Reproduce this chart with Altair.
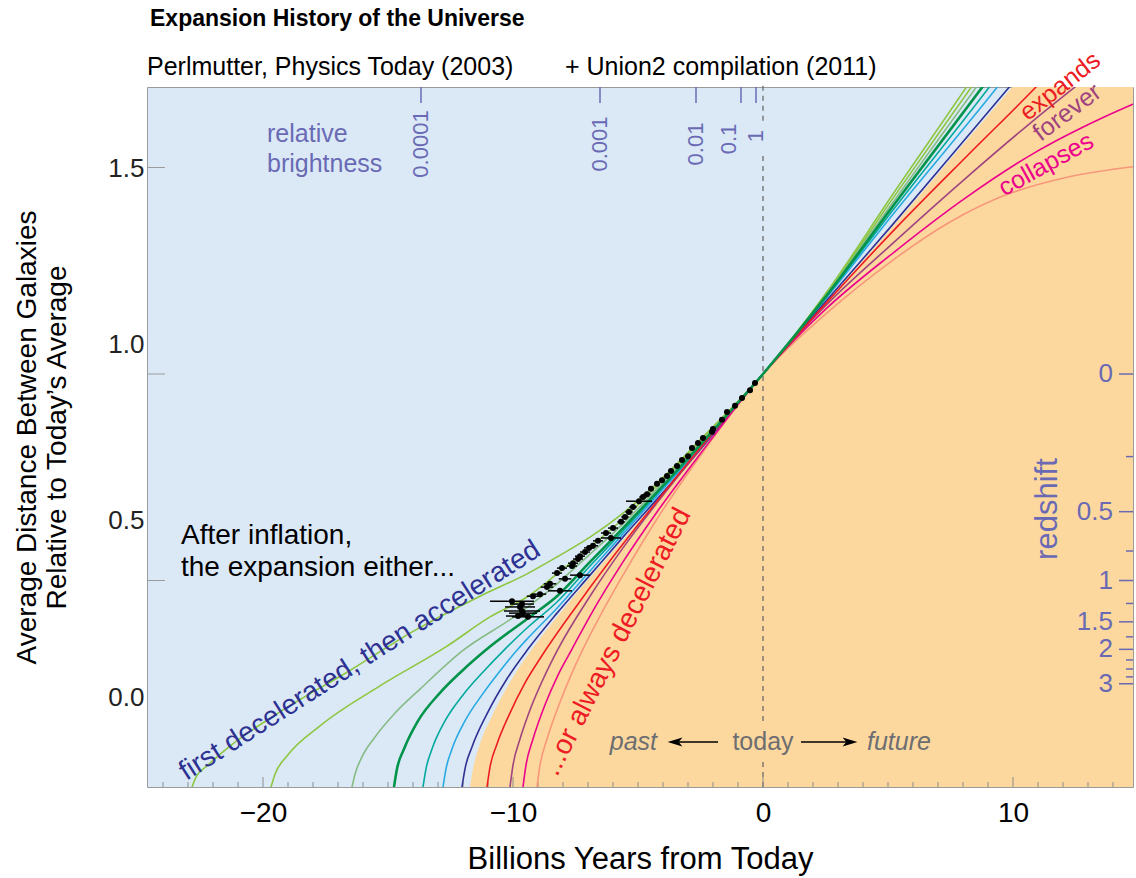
import altair as alt
import pandas as pd

# ---------------- plot geometry & palette ----------------
W, H = 986, 700
T_DOMAIN = [-24.64, 14.8]      # billions of years from today
A_DOMAIN = [0.0, 1.695]        # average galaxy separation relative to today
FONT = "Liberation Sans"

SKY = "#dbe9f7"
PEACH = "#fdd89e"
SLATE = "#6a6ab4"
NAVY = "#2e3192"
RED = "#ed1c24"
PLUM = "#a0447f"
MAGENTA = "#ec008c"
GRAY = "#6d6e71"

# ---------------- expansion histories: time (Gyr) and relative size ----------------
green1_t = [-22.84, -22.68, -22.24, -21.32, -19.32, -16.64, -13.96, -11.32, -9.44, -8.24, -6.92, -5.60, -4.24, -2.52, 0.0, 2.56, 5.20, 8.16, 9.08]
green1_a = [0.0, 0.024, 0.051, 0.099, 0.182, 0.278, 0.378, 0.462, 0.516, 0.557, 0.605, 0.663, 0.736, 0.840, 1.0, 1.199, 1.436, 1.697, 1.780]

green2_t = [-19.68, -19.52, -19.04, -17.72, -15.32, -12.64, -10.92, -9.44, -8.24, -6.92, -5.60, -4.24, -2.52, 0.0, 2.56, 5.20, 8.36, 9.28]
green2_a = [0.0, 0.031, 0.075, 0.148, 0.245, 0.341, 0.412, 0.460, 0.516, 0.581, 0.649, 0.729, 0.838, 1.0, 1.196, 1.426, 1.697, 1.777]

sage_t = [-16.44, -16.32, -16.08, -15.52, -14.72, -13.72, -12.04, -9.96, -8.24, -6.92, -5.60, -4.24, -2.52, 0.0, 2.56, 5.20, 8.56, 9.48]
sage_a = [0.0, 0.031, 0.068, 0.121, 0.179, 0.237, 0.329, 0.412, 0.492, 0.564, 0.637, 0.722, 0.833, 1.0, 1.194, 1.416, 1.697, 1.775]

dkgreen_t = [-14.76, -14.64, -14.36, -13.80, -12.92, -12.04, -11.04, -9.44, -8.24, -6.92, -5.60, -4.24, -2.52, 0.0, 2.56, 5.20, 8.80, 9.72]
dkgreen_a = [0.0, 0.044, 0.092, 0.160, 0.228, 0.281, 0.334, 0.407, 0.462, 0.545, 0.627, 0.714, 0.828, 1.0, 1.191, 1.407, 1.697, 1.772]

teal_t = [-13.60, -13.48, -13.24, -12.72, -12.00, -11.16, -10.32, -9.44, -8.24, -6.92, -5.60, -4.24, -2.52, 0.0, 2.56, 5.20, 9.08, 10.00]
teal_a = [0.0, 0.044, 0.092, 0.160, 0.223, 0.281, 0.334, 0.385, 0.448, 0.535, 0.620, 0.709, 0.823, 1.0, 1.189, 1.397, 1.697, 1.770]

cyan_t = [-12.80, -12.68, -12.44, -11.92, -11.24, -10.52, -9.80, -9.44, -8.24, -6.92, -5.60, -4.24, -2.52, 0.0, 2.56, 5.20, 9.40, 10.32]
cyan_a = [0.0, 0.044, 0.092, 0.160, 0.223, 0.281, 0.334, 0.358, 0.433, 0.523, 0.613, 0.705, 0.821, 1.0, 1.186, 1.387, 1.697, 1.768]

navy_t = [-12.04, -11.92, -11.64, -11.04, -10.24, -9.40, -8.24, -6.92, -5.60, -4.24, -2.52, 0.0, 2.56, 5.20, 7.88, 9.88, 10.80]
navy_a = [0.0, 0.044, 0.097, 0.177, 0.262, 0.334, 0.421, 0.513, 0.605, 0.697, 0.816, 1.0, 1.179, 1.363, 1.554, 1.697, 1.763]

red_t = [-11.04, -10.92, -10.64, -10.16, -9.52, -8.80, -7.52, -6.24, -4.40, -2.52, 0.0, 2.56, 5.20, 8.16, 10.92, 12.28]
red_a = [0.0, 0.048, 0.104, 0.174, 0.252, 0.322, 0.433, 0.538, 0.680, 0.821, 1.0, 1.174, 1.346, 1.528, 1.695, 1.782]

plum_t = [-10.12, -10.00, -9.72, -9.24, -8.72, -8.20, -6.92, -5.60, -4.24, -2.52, 0.0, 2.56, 5.20, 8.16, 10.84, 12.52, 13.88]
plum_a = [0.0, 0.053, 0.116, 0.199, 0.271, 0.334, 0.462, 0.579, 0.688, 0.818, 1.0, 1.169, 1.317, 1.477, 1.615, 1.697, 1.763]

magenta_t = [-9.60, -9.48, -9.20, -8.72, -8.20, -7.64, -6.92, -5.60, -4.24, -2.52, 0.0, 2.56, 5.20, 8.16, 10.84, 13.56, 15.08]
magenta_a = [0.0, 0.053, 0.116, 0.199, 0.271, 0.334, 0.414, 0.545, 0.666, 0.806, 1.0, 1.160, 1.293, 1.429, 1.535, 1.620, 1.661]

salmon_t = [-9.04, -8.92, -8.64, -8.16, -7.68, -7.20, -6.52, -5.60, -4.24, -2.52, 0.0, 2.56, 5.20, 7.48, 9.52, 12.20, 15.08]
salmon_a = [0.0, 0.053, 0.116, 0.199, 0.271, 0.334, 0.414, 0.513, 0.649, 0.801, 1.0, 1.148, 1.276, 1.368, 1.429, 1.477, 1.504]

# edge of the decelerating (shaded) region
edge_t = [-11.72, -11.60, -11.36, -10.80, -10.04, -9.24, -8.12, -6.84, -5.52, -4.20, -2.52, 0.0, 2.56, 5.20, 7.88, 10.00, 11.08, 15.08]
edge_a = [0.0, 0.044, 0.097, 0.177, 0.262, 0.334, 0.421, 0.513, 0.605, 0.697, 0.814, 1.0, 1.177, 1.358, 1.547, 1.697, 1.775, 2.2]

# ---------------- supernova measurements ----------------
sn_t = [-0.32, -0.52, -0.84, -1.12, -1.44, -1.64, -2.00, -2.04, -2.40, -2.60, -2.84, -3.00, -3.24, -3.44,
        -3.68, -3.84, -4.04, -4.24, -4.48, -4.64, -4.80, -4.96, -5.20, -5.36, -5.52, -5.68, -6.00, -6.28,
        -6.08, -6.60, -6.80, -6.96, -7.12, -7.32, -7.40, -7.60, -7.64, -8.04, -8.24, -7.32, -7.92, -8.52,
        -8.64, -8.12, -8.92, -9.20, -10.04, -9.64, -9.72, -9.64, -9.60, -9.80, -9.40]
sn_a = [0.978, 0.961, 0.942, 0.923, 0.908, 0.889, 0.867, 0.860, 0.845, 0.833, 0.821, 0.801, 0.792, 0.777,
        0.765, 0.753, 0.743, 0.734, 0.722, 0.709, 0.702, 0.692, 0.678, 0.666, 0.654, 0.642, 0.627, 0.615,
        0.603, 0.596, 0.584, 0.579, 0.569, 0.559, 0.552, 0.542, 0.535, 0.530, 0.518, 0.513, 0.504, 0.492,
        0.484, 0.475, 0.467, 0.462, 0.450, 0.443, 0.436, 0.426, 0.421, 0.414, 0.412]
sn_err = [0.1, 0.1, 0.1, 0.1, 0.1, 0.1, 0.1, 0.1, 0.1, 0.1, 0.1, 0.1, 0.1, 0.1,
          0.1, 0.1, 0.1, 0.1, 0.1, 0.15, 0.15, 0.52, 0.15, 0.15, 0.15, 0.15, 0.2, 0.2,
          0.4, 0.2, 0.2, 0.2, 0.2, 0.2, 0.2, 0.2, 0.2, 0.2, 0.2, 0.4, 0.25, 0.25,
          0.25, 0.48, 0.25, 0.25, 0.88, 0.48, 0.6, 0.72, 0.56, 0.48, 0.64]

# ---------------- auxiliary scales ----------------
bright_labels = ["0.0001", "0.001", "0.01", "0.1", "1"]
bright_t = [-13.68, -6.52, -2.68, -0.88, -0.28]

z_major = [0, 0.5, 1, 1.5, 2, 3]
z_major_labels = ["0", "0.5", "1", "1.5", "2", "3"]
z_minor = [0.25, 0.75, 1.25, 1.75, 2.25, 2.5, 2.75]

y_tick_values = [0.5, 1.0, 1.5]
y_label_values = [0.0, 0.5, 1.0, 1.5]
year_ticks = list(range(-24, 15))

today_from = [0.0, 0.160, 1.613]
today_to = [0.063, 1.540, 1.70]

# ---------------- helpers ----------------
xs = alt.Scale(domain=T_DOMAIN, nice=False, zero=False)
ys = alt.Scale(domain=A_DOMAIN, nice=False, zero=False)

x_axis = alt.Axis(
    values=[-20, -10, 0, 10], ticks=False, domain=False, grid=False,
    labelFont=FONT, labelFontSize=28, labelColor="black", labelPadding=12,
    title="Billions Years from Today", titleFont=FONT, titleFontSize=31,
    titleFontWeight="normal", titleColor="black", titlePadding=17,
)


def X(field="t"):
    return alt.X(f"{field}:Q", scale=xs, axis=x_axis)


def Y(field="a"):
    return alt.Y(f"{field}:Q", scale=ys, axis=None)


one_row = pd.DataFrame({"k": [0]})


def note(text, t, a, size, color, angle=0, align="center", baseline="middle",
         style="normal", weight="normal"):
    df = pd.DataFrame({"t": [t], "a": [a], "s": [text]})
    return alt.Chart(df).mark_text(
        font=FONT, fontSize=size, color=color, angle=angle, align=align,
        baseline=baseline, fontStyle=style, fontWeight=weight,
    ).encode(x=X(), y=Y(), text="s:N")


def pixel_note(text, px, py, size, color, weight="normal", align="left"):
    return alt.Chart(one_row).mark_text(
        font=FONT, fontSize=size, color=color, fontWeight=weight, align=align,
        baseline="middle",
    ).encode(x=alt.value(px), y=alt.value(py), text=alt.value(text))


# ---------------- layers ----------------
edge_df = pd.DataFrame({"t": edge_t, "a": edge_a})
shade = alt.Chart(edge_df).mark_area(
    color=PEACH, interpolate="monotone", clip=True, opacity=1
).encode(x=X(), y=Y(), y2=alt.datum(0))

today_df = pd.DataFrame({"t": [0.0] * len(today_from), "a": today_from, "a2": today_to})
today_line = alt.Chart(today_df).mark_rule(
    color="#6b6b6b", strokeDash=[5, 5], strokeWidth=1.3
).encode(x=X(), y=Y(), y2="a2:Q")

thin_curves = [
    ("green1", green1_t, green1_a, "#8dc63f"),
    ("green2", green2_t, green2_a, "#8dc63f"),
    ("sage", sage_t, sage_a, "#86bb84"),
    ("teal", teal_t, teal_a, "#00a99d"),
    ("cyan", cyan_t, cyan_a, "#27aae1"),
    ("navy", navy_t, navy_a, NAVY),
    ("salmon", salmon_t, salmon_a, "#f7977a"),
    ("magenta", magenta_t, magenta_a, MAGENTA),
    ("plum", plum_t, plum_a, PLUM),
    ("red", red_t, red_a, RED),
]
rows = []
for name, ts, As, _ in thin_curves:
    rows += [{"curve": name, "t": t, "a": a} for t, a in zip(ts, As)]
thin_df = pd.DataFrame(rows)
thin_lines = alt.Chart(thin_df).mark_line(
    interpolate="monotone", clip=True, strokeWidth=1.6
).encode(
    x=X(), y=Y(),
    color=alt.Color("curve:N", legend=None, scale=alt.Scale(
        domain=[c[0] for c in thin_curves], range=[c[3] for c in thin_curves])),
)

thick_df = pd.DataFrame({"t": dkgreen_t, "a": dkgreen_a})
thick_line = alt.Chart(thick_df).mark_line(
    interpolate="monotone", clip=True, strokeWidth=2.6, color="#00934a"
).encode(x=X(), y=Y())

sn_df = pd.DataFrame({"t": sn_t, "a": sn_a, "e": sn_err})
sn_bars = alt.Chart(sn_df).transform_calculate(
    lo="datum.t - datum.e", hi="datum.t + datum.e"
).mark_rule(color="black", strokeWidth=1.5).encode(x=X("lo"), x2="hi:Q", y=Y())
sn_dots = alt.Chart(sn_df).mark_circle(color="black", size=36, opacity=1).encode(x=X(), y=Y())

# ticks drawn inside the frame
yt_df = pd.DataFrame({"a": y_tick_values})
y_ticks = alt.Chart(yt_df).mark_rule(color="#9a9a9a", strokeWidth=1).encode(
    y=Y(), x=alt.value(0), x2=alt.value(18))

yr_df = pd.DataFrame({"t": year_ticks})
yr_minor = alt.Chart(yr_df).transform_filter("datum.t % 10 != 0").mark_rule(
    color="#8c8c8c", strokeWidth=1).encode(x=X(), y=alt.value(H - 5), y2=alt.value(H))
yr_major = alt.Chart(yr_df).transform_filter("datum.t % 10 == 0").mark_rule(
    color="#8c8c8c", strokeWidth=1).encode(x=X(), y=alt.value(H - 10), y2=alt.value(H))

# relative-brightness scale along the top edge
br_df = pd.DataFrame({"t": bright_t, "lab": bright_labels})
br_ticks = alt.Chart(br_df).mark_rule(color=SLATE, strokeWidth=1.5).encode(
    x=X(), y=alt.value(0), y2=alt.value(16))
br_text_main = alt.Chart(br_df).transform_filter(
    "datum.lab != '0.1' && datum.lab != '1'"
).mark_text(font=FONT, fontSize=22, color=SLATE, angle=270, align="center",
            baseline="middle").encode(x=X(), y=alt.value(57), text="lab:N")
br_text_tenth = alt.Chart(br_df).transform_filter("datum.lab == '0.1'").mark_text(
    font=FONT, fontSize=22, color=SLATE, angle=270, align="center", baseline="bottom"
).encode(x=X(), y=alt.value(52), text="lab:N")
br_text_one = alt.Chart(br_df).transform_filter("datum.lab == '1'").mark_text(
    font=FONT, fontSize=22, color=SLATE, angle=270, align="center", baseline="middle",
    dx=3).encode(x=X(), y=alt.value(52), text="lab:N")

# redshift scale along the right edge (z -> 1/(1+z))
zmaj_df = pd.DataFrame({"z": z_major, "lab": z_major_labels})
zmin_df = pd.DataFrame({"z": z_minor})
z_major_ticks = alt.Chart(zmaj_df).transform_calculate(a="1 / (1 + datum.z)").mark_rule(
    color=SLATE, strokeWidth=1.5).encode(y=Y(), x=alt.value(W - 14), x2=alt.value(W))
z_minor_ticks = alt.Chart(zmin_df).transform_calculate(a="1 / (1 + datum.z)").mark_rule(
    color=SLATE, strokeWidth=1.5).encode(y=Y(), x=alt.value(W - 7), x2=alt.value(W))
z_labels = alt.Chart(zmaj_df).transform_calculate(a="1 / (1 + datum.z)").mark_text(
    font=FONT, fontSize=26, color=SLATE, align="right", baseline="middle").encode(
    y=Y(), x=alt.value(W - 20), text="lab:N")

# arrows around "today"
arrow_df = pd.DataFrame({"t": [-1.8, 1.52], "t2": [-3.52, 3.48], "a": [0.109, 0.109]})
arrow_shafts = alt.Chart(arrow_df).mark_rule(color="black", strokeWidth=1.6).encode(
    x=X(), x2="t2:Q", y=Y())
head_left = alt.Chart(pd.DataFrame({"t": [-3.52], "a": [0.109]})).mark_point(
    shape="M -1 0 L 1 -0.6 L 0.5 0 L 1 0.6 Z", filled=True, color="black", size=220,
    opacity=1).encode(x=X(), y=Y())
head_right = alt.Chart(pd.DataFrame({"t": [3.48], "a": [0.109]})).mark_point(
    shape="M 1 0 L -1 -0.6 L -0.5 0 L -1 0.6 Z", filled=True, color="black", size=220,
    opacity=1).encode(x=X(), y=Y())

annotations = [
    note("relative", -19.84, 1.581, 25, SLATE, align="left"),
    note("brightness", -19.84, 1.508, 25, SLATE, align="left"),
    note("After inflation,", -23.28, 0.608, 28, "black", align="left"),
    note("the expansion either...", -23.28, 0.530, 28, "black", align="left"),
    note("first decelerated, then accelerated", -16.12, 0.305, 28, NAVY, angle=327.5),
    note("...or always decelerated", -5.84, 0.351, 28, RED, angle=297),
    note("expands", 11.88, 1.697, 25, RED, angle=322),
    note("forever", 12.16, 1.634, 25, PLUM, angle=323),
    note("collapses", 11.32, 1.508, 25, MAGENTA, angle=331),
    note("redshift", 11.4, 0.673, 31, SLATE, angle=270),
    note("past", -4.24, 0.109, 25, GRAY, align="right", style="italic"),
    note("today", 0.0, 0.109, 25, GRAY),
    note("future", 4.16, 0.109, 25, GRAY, align="left", style="italic"),
    pixel_note("Expansion History of the Universe", 3, -68, 23, "black", weight="bold"),
    pixel_note("Perlmutter, Physics Today (2003)", 0, -20, 25, "black"),
    pixel_note("+ Union2 compilation (2011)", 418, -20, 25, "black"),
]

main = alt.layer(
    shade, today_line, y_ticks, yr_minor, yr_major, br_ticks,
    thin_lines, thick_line, sn_bars, sn_dots,
    z_major_ticks, z_minor_ticks, z_labels,
    br_text_main, br_text_tenth, br_text_one,
    arrow_shafts, head_left, head_right,
    *annotations,
)

# left-hand value labels and axis title
ylab_df = pd.DataFrame({"v": y_label_values})
y_labels = alt.Chart(ylab_df).mark_point(opacity=0).encode(
    x=alt.value(0),
    y=alt.Y("v:Q", scale=alt.Scale(domain=[-0.255, 1.73], nice=False, zero=False),
            axis=alt.Axis(
                values=y_label_values, format=".1f", orient="left", ticks=False,
                domain=False, grid=False, labelFont=FONT, labelFontSize=26,
                labelColor="#222222", labelPadding=3,
                title=["Average Distance Between Galaxies", "Relative to Today\u2019s Average"],
                titleFont=FONT, titleFontSize=28, titleFontWeight="normal",
                titleColor="black", titleLineHeight=30, titleAngle=270,
                titleAlign="center", titleBaseline="bottom", titleX=-106, titleY=350,
            )),
)

chart = alt.layer(main, y_labels).resolve_scale(y="independent").properties(
    width=W, height=H,
    autosize=alt.AutoSizeParams(type="none"),
    padding={"left": 147, "top": 87, "right": 3, "bottom": 91},
    background="white",
).configure_view(fill=SKY, stroke="#9a9a9a", strokeWidth=1)

chart.save("out.html", embed_options={"renderer": "svg", "actions": False})
